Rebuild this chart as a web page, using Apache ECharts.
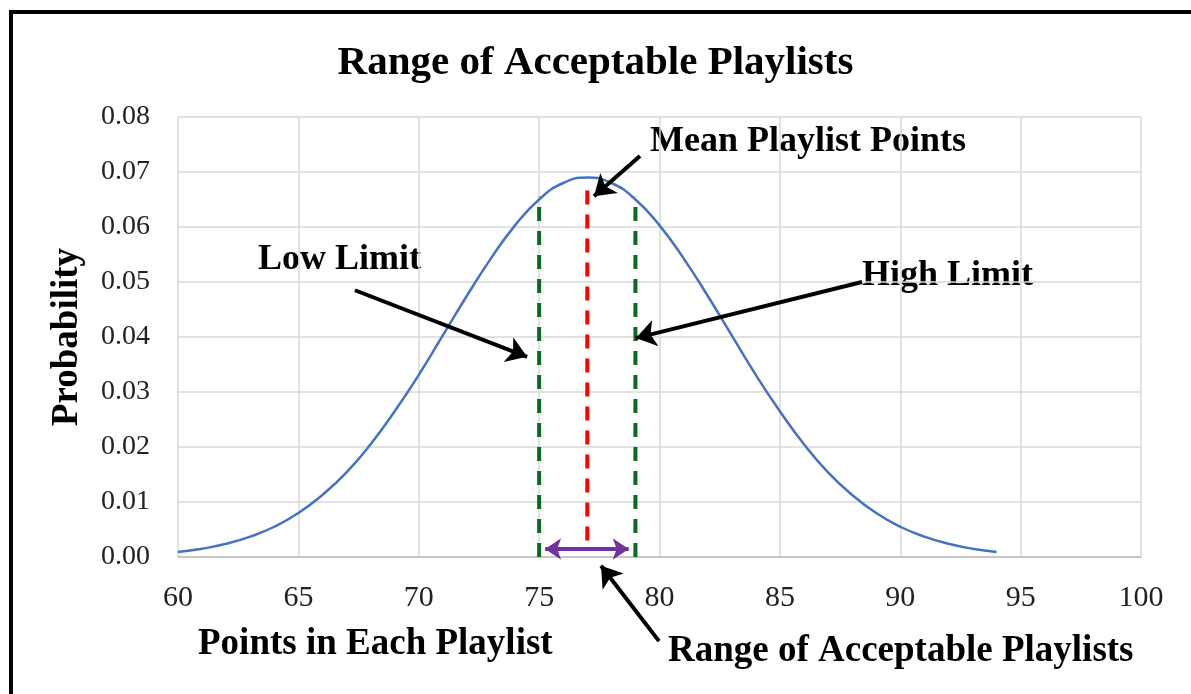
<!DOCTYPE html>
<html><head><meta charset="utf-8">
<script src="https://cdn.jsdelivr.net/npm/echarts@6/dist/echarts.min.js"></script>
<style>html,body{margin:0;padding:0;background:#fff}#c{width:1191px;height:694px}</style>
</head><body><div id="c"></div>
<script>
// Data
const xPoints = [60,61,62,63,64,65,66,67,68,69,70,71,72,73,74,75,76,77,78,79,80,81,82,83,84,85,86,87,88,89,90,91,92,93,94];
const probability = [0.0009,0.0015,0.0024,0.0037,0.0055,0.0080,0.0113,0.0154,0.0205,0.0265,0.0331,0.0403,0.0475,0.0543,0.0603,0.0650,0.0680,0.0690,0.0680,0.0650,0.0603,0.0543,0.0475,0.0403,0.0331,0.0265,0.0205,0.0154,0.0113,0.0080,0.0055,0.0037,0.0024,0.0015,0.0009];
const lowLine = [[75, 0], [75, 0.0655]];
const meanLine = [[77, 0.0030], [77, 0.0682]];
const highLine = [[79, 0], [79, 0.0655]];
const rangeArrow = [[75.25, 0.00145], [78.72, 0.00145]];
// annotation arrows (data coordinates: [from, to])
const arrows = [
  [[67.35, 0.0485], [74.50, 0.0364]],
  [[79.19, 0.0729], [77.28, 0.0656]],
  [[88.41, 0.0500], [79.02, 0.0398]],
  [[79.98, -0.0153], [77.57, -0.0016]]
];
const labels = ['Low Limit','Mean Playlist Points','High Limit','Range of Acceptable Playlists'];

const serif = '"Liberation Serif", "Times New Roman", serif';
const chart = echarts.init(document.getElementById('c'));
const green = '#0b6b1a';
chart.setOption({
  backgroundColor: '#fff',
  animation: false,
  title: { text: 'Range of Acceptable Playlists', left: 'center', top: 38, textStyle: { fontFamily: serif, fontWeight: 'bold', fontSize: 41, color: '#000' } },
  grid: { left: 178, right: 50, top: 117, bottom: 137 },
  xAxis: {
    type: 'value', min: 60, max: 100, interval: 5,
    axisLine: { show: true, lineStyle: { color: '#bfbfbf', width: 1.5 } },
    axisTick: { show: false },
    axisLabel: { fontFamily: serif, fontSize: 30, color: '#222', margin: 26 },
    splitLine: { show: true, lineStyle: { color: '#d9d9d9', width: 1.5 } }
  },
  yAxis: {
    type: 'value', min: 0, max: 0.08, interval: 0.01,
    name: 'Probability', nameLocation: 'middle', nameGap: 92, nameRotate: 90,
    nameTextStyle: { fontFamily: serif, fontWeight: 'bold', fontSize: 37, color: '#000' },
    axisLine: { show: false }, axisTick: { show: false },
    axisLabel: { fontFamily: serif, fontSize: 28, color: '#222', margin: 28, formatter: v => v.toFixed(2) },
    splitLine: { show: true, lineStyle: { color: '#d9d9d9', width: 1.5 } }
  },
  series: [
    { type: 'line', data: xPoints.map((x, i) => [x, probability[i]]), smooth: true, showSymbol: false,
      lineStyle: { color: '#4472c4', width: 2.5 }, z: 3 },
    { type: 'line', data: lowLine, showSymbol: false, lineStyle: { color: green, width: 4, type: [14, 10] }, z: 4 },
    { type: 'line', data: highLine, showSymbol: false, lineStyle: { color: green, width: 4, type: [14, 10] }, z: 4 },
    { type: 'line', data: meanLine, showSymbol: false, lineStyle: { color: '#ff0000', width: 4, type: [14, 10] }, z: 4 },
    { type: 'lines', coordinateSystem: 'cartesian2d', clip: false, z: 5,
      symbol: ['arrow', 'arrow'], symbolSize: [16, 16],
      lineStyle: { color: '#7030a0', width: 4, opacity: 1, curveness: 0 },
      data: [{ coords: rangeArrow }] },
    { type: 'lines', coordinateSystem: 'cartesian2d', clip: false, z: 6,
      symbol: ['none', 'arrow'], symbolSize: 20,
      lineStyle: { color: '#000', width: 4, opacity: 1, curveness: 0 },
      data: arrows.map(a => ({ coords: a })) }
  ],
  graphic: [
    { type: 'rect', shape: { x: 11, y: 12, width: 1400, height: 900 }, style: { fill: 'none', stroke: '#000', lineWidth: 4 }, z: 10 },
    { type: 'text', left: 258, top: 242, style: { text: labels[0], font: 'bold 36px ' + serif, fill: '#000' } },
    { type: 'text', left: 650, top: 124, style: { text: labels[1], font: 'bold 36px ' + serif, fill: '#000' } },
    { type: 'text', left: 862, top: 258, style: { text: labels[2], font: 'bold 36px ' + serif, fill: '#000' } },
    { type: 'text', left: 668, top: 633, style: { text: labels[3], font: 'bold 37px ' + serif, fill: '#000' } },
    { type: 'text', left: 198, top: 626, style: { text: 'Points in Each Playlist', font: 'bold 37px ' + serif, fill: '#000' } }
  ]
});
</script></body></html>
